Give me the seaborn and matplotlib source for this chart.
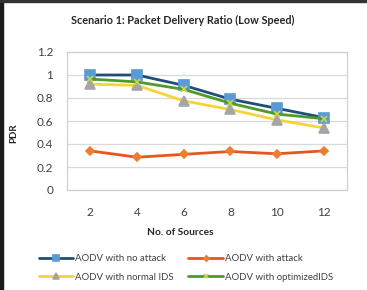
import matplotlib
matplotlib.use("Agg")
import matplotlib.pyplot as plt
import matplotlib.patches as mpatches
import seaborn as sns
import pandas as pd

sources = [2, 4, 6, 8, 10, 12]
no_attack = [1.00, 1.00, 0.91, 0.79, 0.71, 0.63]
with_attack = [0.34, 0.285, 0.31, 0.335, 0.315, 0.34]
normal_ids = [0.92, 0.91, 0.775, 0.70, 0.61, 0.54]
optimized_ids = [0.965, 0.94, 0.875, 0.755, 0.66, 0.62]
series_names = ["AODV with no attack", "AODV with attack",
                "AODV with normal IDS", "AODV with optimizedIDS"]
y_ticks = [0, 0.2, 0.4, 0.6, 0.8, 1, 1.2]
y_tick_labels = ["0", "0.2", "0.4", "0.6", "0.8", "1", "1.2"]

sns.set_style("white")
plt.rcParams["font.family"] = ["Lato", "DejaVu Sans"]

fig = plt.figure(figsize=(3.67, 2.90), dpi=100)
ax = fig.add_axes([67 / 367, 1 - 190 / 290, 280 / 367, 138 / 290])

styles = [
    # line colour, marker, marker face, marker edge, marker size
    ("#1f4e79", "s", "#5b9bd5", "#5b9bd5", 7.5),
    ("#ea5420", "D", "#ed7d31", "#ed7d31", 4.5),
    ("#f6d33a", "^", "#a5a5a5", "#a5a5a5", 7.5),
    ("#4e9a2a", "x", "#c9d84a", "#c9d84a", 5),
]
values = [no_attack, with_attack, normal_ids, optimized_ids]
for name, vals, (lc, mk, mfc, mec, ms) in zip(series_names, values, styles):
    df = pd.DataFrame({"sources": sources, "pdr": vals})
    sns.lineplot(data=df, x="sources", y="pdr", ax=ax, color=lc, linewidth=2.0,
                 marker=mk, markerfacecolor=mfc, markeredgecolor=mec,
                 markersize=ms, markeredgewidth=1.2, label=name, legend=False)

ax.set_xlim(1, 13)
ax.set_ylim(0, 1.2)
ax.set_xticks(sources)
ax.set_xticklabels([str(s) for s in sources], fontsize=8.5, color="#404040")
ax.set_yticks(y_ticks)
ax.set_yticklabels(y_tick_labels, fontsize=8.5, color="#404040")
ax.tick_params(axis="x", length=0, pad=12)
ax.tick_params(axis="y", length=0, pad=10)
ax.yaxis.grid(True, color="#d9d9d9", linewidth=0.9)
ax.set_axisbelow(True)
for sp in ax.spines.values():
    sp.set_color("#d0d0d0")
    sp.set_linewidth(0.9)

ax.set_xlabel("No. of Sources", fontsize=7.3, fontweight="bold")
ax.xaxis.set_label_coords((180 - 67) / 280, -(228 - 190) / 138)
ax.set_ylabel("PDR", fontsize=7, fontweight="bold")
ax.yaxis.set_label_coords(-(67 - 18) / 280, (190 - 133) / 138)
fig.text(183 / 367, 1 - 20 / 290, "Scenario 1: Packet Delivery Ratio (Low Speed)",
         ha="center", va="center", fontsize=7.8, fontweight="bold")

# Excel fills the legend row by row; matplotlib fills column by column
handles, labels = ax.get_legend_handles_labels()
order = [0, 2, 1, 3]
fig.legend([handles[i] for i in order], [labels[i] for i in order],
           ncol=2, frameon=False, fontsize=6.9,
           loc="center", bbox_to_anchor=(186 / 367, 1 - 268 / 290),
           handlelength=3.6, columnspacing=1.5, handletextpad=0.2,
           labelspacing=0.95, markerscale=0.6, labelcolor="#404040")

# thin dark frame along the left and top edge of the screenshot
fig.patches.append(mpatches.Rectangle((0, 0), 3 / 367, 1, transform=fig.transFigure,
                                      color="#1a1a1a", zorder=10))
fig.patches.append(mpatches.Rectangle((0, 1 - 1.5 / 290), 1, 1.5 / 290,
                                      transform=fig.transFigure,
                                      color="#333333", zorder=10))

fig.savefig("out.png", dpi=100, facecolor="white")
